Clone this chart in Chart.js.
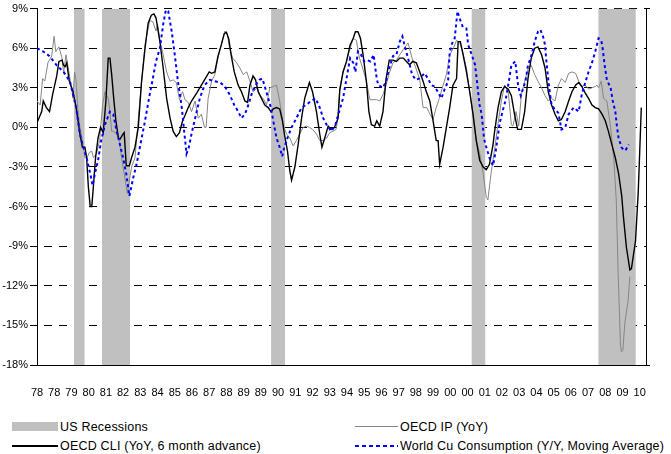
<!DOCTYPE html>
<html>
<head>
<meta charset="utf-8">
<script src="https://cdn.jsdelivr.net/npm/chart.js@4.4.1/dist/chart.umd.min.js"></script>
<style>
  body { margin: 0; background: #fff; }
  #wrap { position: relative; width: 671px; height: 454px; overflow: hidden;
          font-family: "Liberation Sans", Arial, sans-serif; }
  #chart { position: absolute; left: 0; top: 0; }
  .leg-text { position: absolute; font-size: 12.5px; letter-spacing: 0.2px; line-height: 14px; color: #000; white-space: nowrap; }
  .leg-key { position: absolute; }
</style>
</head>
<body>
<div id="wrap">
  <canvas id="chart" width="671" height="400"></canvas>
  <div id="legend"></div>
</div>
<script>
// Months are counted from Jan 1978 (= 0). One label every 11 months, as in the original sheet.
var yearLabels = ['78','78','79','80','81','82','83','84','85','86','87','88','89','89','90','91','92','93',
                  '94','95','96','97','98','99','00','00','01','02','03','04','05','06','07','08','09','10'];
var labelEvery = 11;
var lastMonth = 389;

// US recessions, first and last month
var recStarts = [24, 42, 150, 278, 359];
var recEnds   = [30, 59, 158, 286, 382];

// OECD IP (YoY), [month, %]
var ipData = [
  [0,2.0],[2,1.7],[3.6,3.7],[5,3.5],[7,4.9],[9.4,5.4],[10.9,6.9],[12,5.75],[14,6.1],[16,5.25],[17,4.1],
  [18.5,5.5],[20,4.5],[22,3.0],[23,2.2],[24,4.2],[25,3.5],[26,1.5],[27.4,0],[29,-1.0],[30.6,-2.3],[32,-2.3],
  [33.4,-1.9],[35,-1.8],[36,-2.3],[38,-2.0],[40,-1.0],[41.9,1.7],[43.4,2.7],[45.5,2.2],[46.6,1.2],[47.7,-0.3],
  [49,-0.3],[50.9,-0.5],[52.5,-1.0],[54,-2.3],[55.7,-3.5],[57.7,-5.0],[59,-4.0],[60.4,-3.0],[62.6,-2.3],
  [65.7,2.0],[69,6.25],[72,8.1],[74,8.0],[76,7.3],[77,7.8],[78.5,6.6],[80.6,5.5],[82.8,4.2],[85,3.5],[87,3.6],
  [89,3.4],[91,2.1],[93,2.7],[94.5,2.1],[96.6,1.9],[98.7,1.2],[101,2.0],[103,0.7],[105,1.0],[107,0],[108,0],
  [109.3,2.2],[111.5,3.5],[113.6,4.0],[115.6,5.25],[117.7,6.25],[120,7.3],[121.7,7.0],[123,6.0],[125,5.25],
  [127.5,4.9],[129.6,4.5],[131.7,4.0],[134,4.2],[136,3.5],[138,2.7],[140.6,3.0],[142.5,2.4],[144.5,2.2],
  [146.6,1.7],[148.7,3.0],[150.9,3.1],[153,3.2],[155,2.0],[157.2,0.2],[159.4,-0.5],[161.5,-0.8],[163.6,-1.4],
  [165.7,-1.0],[167.8,-0.5],[170,0],[172,0.1],[174,0],[176,-0.15],[178.5,-0.5],[180.6,-1.0],[182.8,-1.0],
  [185,-0.8],[187,-0.4],[189,-0.3],[191,-0.15],[192,0.5],[193.4,3.0],[195.5,4.2],[197.7,5.0],[200,6.0],
  [202,6.75],[204,6.6],[206,5.25],[208,4.5],[210.4,3.5],[212.6,2.1],[214.7,2.1],[217,2.1],[219,2.0],[221,2.5],
  [223,3.2],[225,4.1],[227.4,4.9],[229.6,5.1],[231.7,5.5],[234,5.9],[237,6.4],[239.6,5.25],[242,4.5],
  [244.5,3.6],[246.6,1.5],[249,1.5],[251,1.0],[253,0.6],[255,1.5],[257,2.2],[259.4,3.2],[261.5,4.0],
  [263.6,5.5],[266,6.0],[268,6.6],[270,6.4],[271.5,5.9],[274.3,4.5],[276.4,2.7],[278.5,1.0],[280.6,-1.0],
  [282.8,-2.0],[285,-3.5],[287,-5.3],[288,-5.5],[290,-3.5],[292.5,-1.5],[294.5,0.3],[296.6,2.0],[298.7,3.2],
  [301,2.7],[303,0.2],[304,0.1],[306,1.2],[307.7,0.1],[309.4,2.5],[311.5,3.5],[313.6,4.4],[315.7,4.7],
  [317.9,4.0],[320,3.5],[322.3,3.0],[324.5,2.4],[326.6,2.0],[328.7,2.2],[330.9,2.0],[333,3.2],[335,3.7],
  [337.4,3.4],[339.6,4.1],[341.7,4.2],[344,4.1],[346,3.5],[348,3.1],[350.2,3.2],[352.3,2.9],[354.5,3.0],
  [356.6,3.1],[357.7,3.2],[358.7,3.0],[360.4,3.5],[361.9,2.2],[364,2.0],[366.4,0],[368.5,-2.5],[370,-5.5],
  [371.2,-11.0],[372.7,-16.5],[373.3,-17.0],[374.2,-16.9],[375.5,-14.8],[377.6,-13.1],[378.7,-11.3]
];

// OECD CLI (YoY, 6 month advance), [month, %]
var cliData = [
  [0,0.35],[3,1.2],[4,2.0],[6,1.5],[8,1.2],[10,2.5],[12.6,3.9],[14,5.0],[16,5.1],[17,4.7],[18,4.6],[19,4.9],
  [20.6,3.5],[23,2.7],[25,1.5],[27.4,-0.5],[29,-1.5],[30.6,-1.5],[31.7,-2.3],[32.8,-4.5],[34,-6.0],[35,-6.0],
  [36,-4.5],[37.4,-2.3],[39,-0.8],[40.6,0],[42.3,-0.4],[44,2.0],[45.5,5.25],[46.6,5.25],[47.7,4.0],[49,2.2],
  [50.4,0.5],[52,-0.8],[53,-0.9],[55,-0.5],[55.7,-0.4],[57,-2.9],[59,-2.9],[60.4,-2.3],[62.6,-1.5],[64.7,0],
  [66.8,3.5],[69,6.0],[71,7.9],[73,8.5],[74.7,8.6],[76,8.3],[78.5,6.5],[80.6,4.5],[82.8,2.2],[85,0.7],
  [87,-0.3],[89,-0.7],[91,-0.4],[93,0.5],[94.5,0.9],[96.6,1.5],[98.7,2.0],[102,2.6],[105,3.2],[107,3.6],
  [110,4.2],[111.5,4.1],[113.6,4.2],[115.6,5.4],[117.7,6.25],[119.6,7.1],[121,7.2],[122.5,6.7],[124,5.5],
  [126,4.2],[128.5,3.2],[130.6,2.7],[132.8,2.0],[134.5,1.9],[136,3.2],[138,3.9],[139.6,3.6],[141.3,2.7],
  [143.4,2.2],[145.5,1.7],[147.7,1.5],[149.4,1.2],[150.9,1.4],[153,1.5],[155,1.4],[156.8,0.5],[158,-0.5],
  [160,-1.8],[161.5,-3.3],[162.6,-4.0],[164.7,-3.0],[166.8,-1.3],[169,0.7],[171,2.2],[173,3.0],[174,3.4],
  [176,2.7],[178.5,1.2],[180.6,-0.5],[182,-1.5],[183.8,-0.8],[186,0.1],[188,-0.15],[190,0],[192.3,0.7],
  [193.4,2.8],[195.5,4.2],[197.7,5.0],[200,6.25],[202,6.75],[203.4,7.25],[205,7.25],[206.6,6.75],[208.3,5.5],
  [210.4,3.5],[212,1.2],[213.6,0.2],[215.7,0.1],[217,0.5],[218.9,0.1],[221,1.2],[223,3.7],[225,5.1],
  [227.4,5.1],[229.6,5.0],[231.7,5.25],[234,5.25],[236,5.0],[238,4.75],[240,5.0],[242.3,4.9],[244.5,4.2],
  [246.6,3.5],[248.7,2.7],[250.9,2.0],[253,0.5],[255,-1.0],[256.2,-1.0],[257.2,-2.8],[259.4,-1.5],[261.5,0],
  [263.6,1.5],[265.7,3.2],[268,3.7],[269,6.5],[270.4,6.5],[272,5.6],[274.3,4.2],[276.4,2.7],[278.5,1.0],
  [280.6,-1.0],[282.8,-2.5],[285,-3.0],[287,-3.2],[289,-2.8],[291.3,-1.3],[292.3,-0.3],[294.5,1.5],
  [296.6,2.7],[298.7,3.1],[301,2.9],[303,2.4],[305,1.0],[307,-0.15],[309.4,-0.15],[311.5,1.2],[313.6,3.7],
  [315.7,5.25],[317.9,6.0],[320,6.1],[322.3,5.5],[324.5,4.5],[326.6,2.7],[328.7,1.7],[330.9,1.0],[333,0.5],
  [335,0.6],[337.4,1.2],[339.6,2.0],[341.7,2.7],[344,3.2],[346,3.4],[348,3.1],[350.2,2.6],[352.3,2.2],
  [354.5,1.7],[356.6,1.5],[358.7,1.4],[360.9,1.0],[363,0.5],[365,-0.3],[367.2,-1.3],[369.4,-2.3],
  [371.5,-3.5],[373.5,-5.2],[374.6,-6.8],[376.5,-9.1],[378.7,-10.8],[379.7,-10.7],[382.3,-8.6],[384,-5.0],
  [385,-1.8],[386,1.5]
];

// World Cu Consumption (Y/Y, Moving Average), [month, %]
var cuData = [
  [0,6.0],[4,5.75],[8,5.4],[12.6,4.7],[17,4.2],[21,3.5],[23,2.5],[25,1.5],[27.4,-0.5],[29.6,-1.5],[31.7,-2.3],
  [34,-3.5],[35.5,-4.4],[37,-3.5],[39,-2.5],[41,-1.0],[43.4,0.2],[46.6,1.2],[48.7,1.0],[50.9,-0.3],[53,-1.3],
  [55,-2.3],[57,-3.5],[59,-5.2],[61.5,-3.8],[63.6,-2.8],[65.7,-1.5],[69,0.5],[72,2.5],[74,3.7],[76,5.0],
  [78.5,6.0],[80.6,7.8],[82.3,8.9],[83.8,8.8],[86,7.3],[88,5.5],[90,3.5],[92.5,1.5],[94,-0.3],[95.5,-2.0],
  [97,-1.5],[98.7,-0.5],[101,0.7],[104,2.2],[107,3.2],[110.4,3.6],[113.6,3.5],[117,3.4],[120,3.1],[123,2.5],
  [126,1.7],[128.5,1.2],[130.6,0.7],[132.8,1.0],[135,1.7],[137,2.5],[139.6,3.2],[142,3.6],[144,3.7],
  [145.5,3.1],[147.7,2.2],[149.4,1.5],[150.9,0.5],[153,-0.8],[155,-1.5],[156.6,-2.2],[158,-1.5],[160,-0.8],
  [162.6,0],[165.7,0.7],[169,1.5],[172,1.7],[175,2.0],[178,2.2],[180.6,1.5],[182.8,0.7],[185,0.2],[188,-0.3],
  [190.6,0.2],[193,1.2],[195.5,2.2],[197.7,3.7],[200,5.25],[202,4.9],[203.4,4.2],[205,5.75],[207,5.5],
  [209,5.0],[211,5.1],[213,5.0],[215,5.5],[217,3.7],[218,3.2],[221,3.0],[223,3.5],[225,4.5],[227.4,5.4],
  [229.6,5.5],[231.7,6.5],[233.4,6.9],[235,6.1],[237,5.25],[239.6,4.0],[242,3.6],[244,3.7],[247.6,4.1],
  [249.7,3.7],[251.9,3.2],[254,3.1],[256,2.7],[258.3,2.2],[260.4,2.9],[262.6,3.5],[263.5,5.5],[264.7,6.25],
  [266.8,6.75],[268.6,8.8],[270,8.25],[272,7.6],[274.3,7.5],[275.4,6.25],[277.7,5.5],[279.8,4.75],[281,3.5],
  [282.7,1.7],[284,1.0],[285.6,-0.9],[287,-1.5],[289,-2.3],[291.3,-2.9],[293,-1.8],[294,-1.0],[295.5,0.3],
  [298,1.5],[299.2,2.0],[301,3.2],[303,4.7],[305.5,5.0],[306,4.5],[307.4,3.1],[309,2.4],[310.4,2.9],
  [312,3.5],[313.6,4.7],[315.7,5.4],[317.9,6.5],[320,7.25],[321.5,7.4],[323.2,6.9],[324.5,6.25],[325.3,5.1],
  [326.6,3.6],[327.7,2.5],[328.7,1.7],[330.9,1.35],[333,1.1],[335,-0.15],[337.4,0],[339.6,1.0],[342.8,1.5],
  [346,1.2],[348,2.5],[350.2,3.4],[352.3,4.2],[354.5,4.9],[356.6,5.75],[358.7,6.75],[360.4,6.6],[361.3,6.0],
  [362.6,4.7],[364,3.6],[366.4,3.0],[367.8,2.0],[369.4,1.2],[370.5,0],[371.5,-0.8],[373.3,-1.5],
  [374.7,-1.7],[375.8,-1.75],[378,-1.3]
];

Chart.defaults.font.family = '"Liberation Sans", Arial, sans-serif';
Chart.defaults.color = '#000';

var datasets = [];

// Recession shading: one filled band per recession, only the first one named
recStarts.forEach(function (start, i) {
    datasets.push({
        label: i === 0 ? 'US Recessions' : '',
        data: [[start - 0.5, 9], [recEnds[i] + 0.5, 9]],
        borderColor: '#c0c0c0',
        borderWidth: 0,
        backgroundColor: '#c0c0c0',
        pointRadius: 0,
        fill: { value: -18 },
        order: 10,
        legendKey: 'box'
    });
});

datasets.push({
    label: 'OECD IP (YoY)',
    data: ipData,
    borderColor: '#858585',
    borderWidth: 1,
    pointRadius: 0,
    fill: false,
    order: 3,
    legendKey: 'line'
});
datasets.push({
    label: 'OECD CLI (YoY, 6 month advance)',
    data: cliData,
    borderColor: '#000000',
    borderWidth: 1.4,
    pointRadius: 0,
    fill: false,
    order: 2,
    legendKey: 'line'
});
datasets.push({
    label: 'World Cu Consumption (Y/Y, Moving Average)',
    data: cuData,
    borderColor: '#0000ff',
    borderWidth: 2,
    borderDash: [3, 3],
    pointRadius: 0,
    fill: false,
    order: 1,
    legendKey: 'dash'
});

var chart = new Chart(document.getElementById('chart'), {
    type: 'line',
    data: { datasets: datasets },
    options: {
        responsive: false,
        animation: false,
        events: [],
        layout: { padding: { top: 7, left: 0, right: 0, bottom: 0 } },
        plugins: { legend: { display: false }, tooltip: { enabled: false } },
        scales: {
            x: {
                type: 'linear',
                min: 0,
                max: lastMonth,
                grid: { display: false },
                border: { display: true, color: '#000', width: 1 },
                afterBuildTicks: function (axis) {
                    axis.ticks = yearLabels.map(function (l, i) { return { value: i * labelEvery }; });
                },
                ticks: {
                    autoSkip: false,
                    maxRotation: 0,
                    padding: 13,
                    font: { size: 11 },
                    callback: function (v, i) { return yearLabels[i]; }
                },
                afterFit: function (axis) { axis.height = 35; }
            },
            y: {
                min: -18,
                max: 9,
                ticks: {
                    stepSize: 3,
                    padding: 2,
                    font: { size: 11 },
                    callback: function (v) { return v + '%'; }
                },
                grid: { color: '#000', lineWidth: 1, tickLength: 7, tickColor: '#000' },
                border: { display: true, color: '#000', width: 1, dash: [8, 7], dashOffset: 9 },
                afterFit: function (axis) { axis.width = 37; }
            },
            y2: {
                position: 'right',
                min: -18,
                max: 9,
                afterBuildTicks: function (axis) { axis.ticks = [{ value: -18 }, { value: 9 }]; },
                ticks: { display: false },
                grid: { drawOnChartArea: false, tickLength: 4, color: '#000' },
                border: { display: true, color: '#000', width: 1 },
                afterFit: function (axis) { axis.width = 25; }
            }
        }
    }
});

// Legend in two columns and two rows under the chart, built from the named datasets
var legendBox = document.getElementById('legend');
var named = chart.data.datasets.filter(function (d) { return d.label; });
named.forEach(function (d, i) {
    var col = i % 2, row = Math.floor(i / 2);
    var keyLeft = col === 0 ? 12 : 355;
    var keyWidth = col === 0 ? 46 : 43;
    var midY = row === 0 ? 426.5 : 446;

    var key = document.createElement('div');
    key.className = 'leg-key';
    key.style.left = keyLeft + 'px';
    key.style.width = keyWidth + 'px';
    if (d.legendKey === 'box') {
        key.style.top = (midY - 5) + 'px';
        key.style.height = '9px';
        key.style.background = d.backgroundColor;
    } else if (d.legendKey === 'dash') {
        key.style.top = (midY - 1) + 'px';
        key.style.height = '2px';
        key.style.background = 'repeating-linear-gradient(to right, ' + d.borderColor + ' 0 4px, transparent 4px 7px)';
    } else {
        key.style.top = (midY - d.borderWidth / 2) + 'px';
        key.style.height = d.borderWidth + 'px';
        key.style.background = d.borderColor;
    }
    legendBox.appendChild(key);

    var text = document.createElement('div');
    text.className = 'leg-text';
    text.style.left = (keyLeft + keyWidth + 2) + 'px';
    text.style.top = (midY - 7) + 'px';
    text.textContent = d.label;
    legendBox.appendChild(text);
});
</script>
</body>
</html>
